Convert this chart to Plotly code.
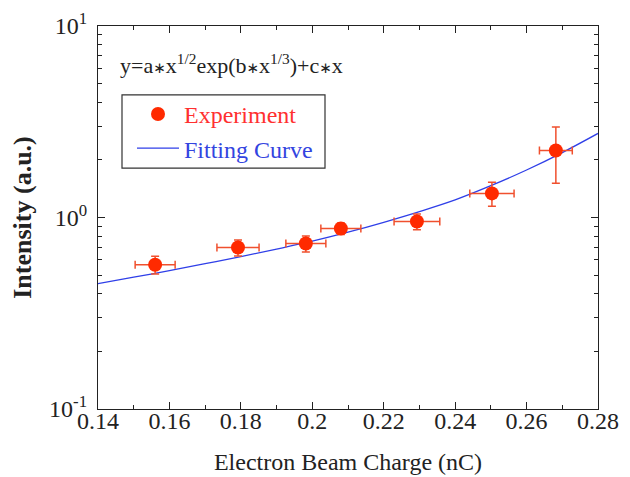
import plotly.graph_objects as go

# Experimental data
charge = [0.156, 0.1792, 0.1982, 0.208, 0.2293, 0.2503, 0.2682]
intensity = [0.567, 0.697, 0.731, 0.876, 0.953, 1.336, 2.24]
charge_err = [0.0056, 0.0059, 0.0056, 0.0056, 0.0064, 0.0062, 0.0046]
intensity_err = [0.06, 0.067, 0.07, 0.06, 0.09, 0.19, 0.73]

# Fitting curve
fit_x = [0.14, 0.15, 0.16, 0.17, 0.18, 0.19, 0.20, 0.21, 0.22, 0.23, 0.24, 0.25, 0.26, 0.27, 0.28]
fit_y = [0.451, 0.488, 0.528, 0.574, 0.625, 0.684, 0.752, 0.838, 0.944, 1.074, 1.236, 1.466, 1.770, 2.183, 2.748]

x_ticks = [0.14, 0.16, 0.18, 0.2, 0.22, 0.24, 0.26, 0.28]
x_ticktext = ["0.14", "0.16", "0.18", "0.2", "0.22", "0.24", "0.26", "0.28"]
y_ticks = [0.1, 1, 10]
y_ticktext = ["10<sup>-1</sup>", "10<sup>0</sup>", "10<sup>1</sup>"]

FONT = "Liberation Serif, Times New Roman, serif"
RED = "#ff2a00"
BLUE = "#2f3fe8"
AST = "<span style='font-family:DejaVu Sans;font-size:15px'>\u2217</span>"

fig = go.Figure()
fig.add_trace(go.Scatter(
    x=fit_x, y=fit_y, mode="lines", line=dict(color=BLUE, width=1.3, shape="spline"),
    name="<span style='color:#3344e0'>Fitting Curve</span>",
))
fig.add_trace(go.Scatter(
    x=charge, y=intensity, mode="markers",
    marker=dict(color=RED, size=14, symbol="circle"),
    error_x=dict(type="data", array=charge_err, color="#f0502e", thickness=1.5, width=4),
    error_y=dict(type="data", array=intensity_err, color="#f0502e", thickness=1.5, width=4),
    name="<span style='color:#ff3030'>Experiment</span>",
))

fig.update_layout(
    width=622, height=469,
    margin=dict(l=90, r=32, t=18, b=68, autoexpand=False),
    paper_bgcolor="white", plot_bgcolor="white",
    font=dict(family=FONT, size=24, color="#222"),
    showlegend=True,
    legend=dict(
        x=0.068, y=0.828, xanchor="left", yanchor="top",
        borderwidth=0, bgcolor="rgba(0,0,0,0)",
        font=dict(family=FONT, size=24), traceorder="reversed",
        tracegroupgap=0, itemwidth=42,
    ),
    xaxis=dict(
        range=[0.14, 0.28], showline=True, linecolor="#222", linewidth=1.2, mirror="ticks",
        ticks="inside", ticklen=7, tickcolor="#222", tickwidth=1.2,
        tickvals=x_ticks, ticktext=x_ticktext, showgrid=False, zeroline=False,
        tickfont=dict(size=24), automargin=False, ticklabelstandoff=-10,
        minor=dict(ticks="inside", ticklen=4, tickcolor="#222", tickwidth=1.2,
                   tickvals=[0.15, 0.17, 0.19, 0.21, 0.23, 0.25, 0.27], showgrid=False),
        title=dict(text="Electron Beam Charge (nC)", font=dict(size=24), standoff=20),
    ),
    yaxis=dict(
        type="log", range=[-1, 1], showline=True, linecolor="#222", linewidth=1.2, mirror="ticks",
        ticks="inside", ticklen=7, tickcolor="#222", tickwidth=1.2,
        tickvals=y_ticks, ticktext=y_ticktext, showgrid=False, zeroline=False,
        tickfont=dict(size=24), automargin=False, ticklabelstandoff=5,
        minor=dict(ticks="inside", ticklen=4, tickcolor="#222", tickwidth=1.2,
                   tickvals=[0.2, 0.3, 0.4, 0.5, 0.6, 0.7, 0.8, 0.9, 2, 3, 4, 5, 6, 7, 8, 9],
                   showgrid=False),
        title=dict(text="<b>Intensity (a.u.)</b>", font=dict(size=26), standoff=12),
    ),
    shapes=[dict(
        type="rect", xref="paper", yref="paper", x0=0.048, x1=0.454, y0=0.629, y1=0.82,
        line=dict(color="#333", width=1.2), fillcolor="rgba(0,0,0,0)", layer="above",
    )],
    annotations=[dict(
        x=0.04, y=0.9, xref="paper", yref="paper", xanchor="left", yanchor="middle",
        text="y=a" + AST + "x<sup>1/2</sup>exp(b" + AST + "x<sup>1/3</sup>)+c" + AST + "x",
        showarrow=False, font=dict(family=FONT, size=22, color="#222"),
    )],
)

fig.write_html("out.html")
